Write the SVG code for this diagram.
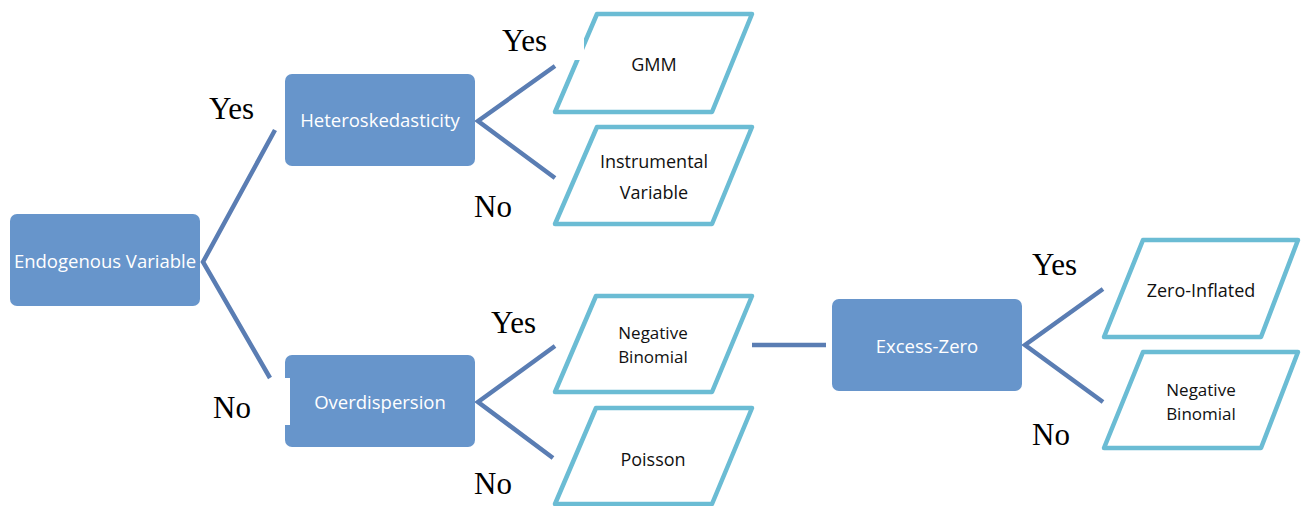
<svg xmlns="http://www.w3.org/2000/svg" width="1302" height="506" viewBox="0 0 1302 506">
<style>
.box{fill:#6795CB;}
.bt{fill:#ffffff;font-family:"Open Sans",sans-serif;font-size:18.5px;text-anchor:middle;}
.para{fill:#ffffff;stroke:#6BBCD4;stroke-width:4.5;stroke-linejoin:round;}
.pt{fill:#111111;font-family:"Open Sans",sans-serif;font-size:18px;text-anchor:middle;}
.pt2{fill:#111111;font-family:"Open Sans",sans-serif;font-size:17px;text-anchor:middle;}
.con{stroke:#5A7DB3;stroke-width:4.5;fill:none;}
.lab{fill:#000000;font-family:"Liberation Serif",serif;font-size:31px;}
</style>
<rect width="1302" height="506" fill="#ffffff"/>
<g id="connectors">
<polyline class="con" points="275,130 203,262 270,378"/>
<polyline class="con" points="555,66 478,121 555,178"/>
<polyline class="con" points="555,346 478,402 553,458"/>
<line class="con" x1="752" y1="345" x2="826" y2="345"/>
<polyline class="con" points="1103,289 1025,345 1103,402"/>
</g>
<g id="endogenous">
<rect class="box" x="10" y="214" width="190" height="92" rx="7"/>
<text class="bt" x="105" y="268">Endogenous Variable</text>
</g>
<g id="heteroskedasticity">
<rect class="box" x="285" y="74" width="190" height="92" rx="7"/>
<text class="bt" x="380" y="127">Heteroskedasticity</text>
</g>
<g id="overdispersion">
<rect class="box" x="285" y="355" width="190" height="92" rx="7"/>
<rect x="283" y="378" width="7" height="47" fill="#ffffff"/>
<text class="bt" x="380" y="409">Overdispersion</text>
</g>
<g id="excesszero">
<rect class="box" x="832" y="299" width="190" height="92" rx="7"/>
<text class="bt" x="927" y="353">Excess-Zero</text>
</g>
<g id="gmm">
<polygon class="para" points="597,14 752,14 712,112 555,112"/>
<rect x="574" y="33" width="10" height="27" fill="#ffffff"/>
<text class="pt" x="654" y="71">GMM</text>
</g>
<g id="iv">
<polygon class="para" points="597,127 752,127 712,224 555,224"/>
<text class="pt" x="654" y="168">Instrumental</text>
<text class="pt" x="654" y="199">Variable</text>
</g>
<g id="negbin1">
<polygon class="para" points="596,296 752,296 712,392 555,392"/>
<text class="pt2" x="653" y="339">Negative</text>
<text class="pt2" x="653" y="362.5">Binomial</text>
</g>
<g id="poisson">
<polygon class="para" points="596,408 752,408 712,504 555,504"/>
<text class="pt" x="653" y="466">Poisson</text>
</g>
<g id="zeroinflated">
<polygon class="para" points="1143,240 1298,240 1261,337 1104,337"/>
<text class="pt" x="1201" y="297">Zero-Inflated</text>
</g>
<g id="negbin2">
<polygon class="para" points="1143,352 1298,352 1261,448 1104,448"/>
<text class="pt2" x="1201" y="396">Negative</text>
<text class="pt2" x="1201" y="419.5">Binomial</text>
</g>
<g id="labels">
<text class="lab" x="209" y="119">Yes</text>
<text class="lab" x="213" y="418">No</text>
<text class="lab" x="502" y="51">Yes</text>
<text class="lab" x="474" y="217">No</text>
<text class="lab" x="491" y="333">Yes</text>
<text class="lab" x="474" y="494">No</text>
<text class="lab" x="1032" y="275">Yes</text>
<text class="lab" x="1032" y="445">No</text>
</g>
</svg>
